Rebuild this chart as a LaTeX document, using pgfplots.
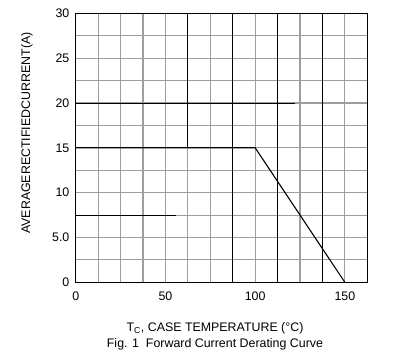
\documentclass[border=0pt]{standalone}
\usepackage{fontspec}
\setmainfont{Liberation Sans}
\usepackage{pgfplots}
\pgfplotsset{compat=1.18}
\definecolor{gridgray}{RGB}{158,158,158}
\begin{document}
\fontsize{12.4bp}{14bp}\selectfont
\begin{tikzpicture}
\begin{axis}[
  at={(0,0)}, anchor=south west,
  scale only axis,
  width=291.6bp, height=269bp,
  xmin=0, xmax=162.5, ymin=0, ymax=30,
  xtick={0,12.5,...,162.5},
  xticklabels={0,,,,50,,,,100,,,,150,},
  ytick={0,2.5,...,30},
  yticklabels={0,,5.0,,10,,15,,20,,25,,30},
  major tick length=0,
  grid=major,
  major grid style={draw=gridgray, line width=1.1bp},
  extra x ticks={87.5,112.5,137.5},
  extra x tick labels={},
  extra x tick style={grid=major, major grid style={draw=black, line width=0.8bp}},
  axis line style={black, line width=0.9bp},
  /pgf/number format/assume math mode=true,
  tick label style={font=\fontsize{12.4bp}{14bp}\selectfont},
  xticklabel style={yshift=-5bp},
  yticklabel style={xshift=-2bp},
  clip=false,
]
\addplot[draw=black, line width=0.8bp, forget plot] coordinates {(0,7.5) (56,7.5)};
\addplot[draw=black, line width=0.8bp, forget plot] coordinates {(0,20) (122,20)};
\addplot[draw=black, line width=0.8bp, forget plot] coordinates {(62.5,15) (62.5,30)};
\addplot[draw=black, line width=1.1bp] coordinates {(0,15) (100,15) (150,0)};
\end{axis}
\node at (139.3bp,-45.7bp) {T\textsubscript{C}, CASE TEMPERATURE (°C)};
\node at (139.3bp,-61.7bp) {Fig. 1\ \ Forward Current Derating Curve};
\node[rotate=90] at (-48.7bp,149.3bp) {AVERAGERECTIFIEDCURRENT(A)};
\path (-75.7bp,-75.7bp) rectangle (327.3bp,282.3bp);
\end{tikzpicture}
\end{document}
